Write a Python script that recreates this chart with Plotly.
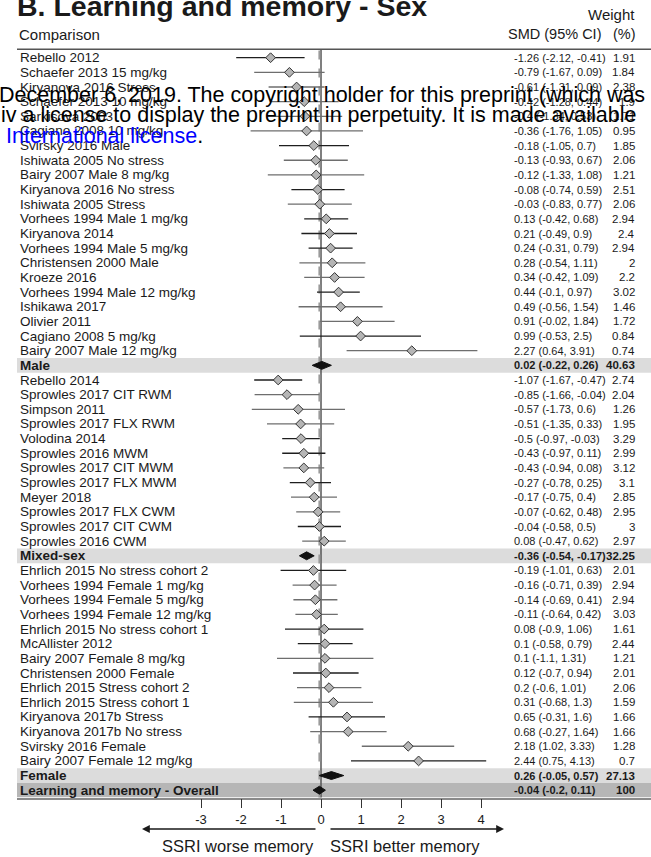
import plotly.graph_objects as go

W, H = 651, 857

# ---------------- data ----------------
labels = [
    "Rebello 2012", "Schaefer 2013 15 mg/kg", "Kiryanova 2016 Stress", "Schaefer 2013 10 mg/kg",
    "Sarkisova 2003", "Cagiano 2008 10 mg/kg", "Svirsky 2016 Male", "Ishiwata 2005 No stress",
    "Bairy 2007 Male 8 mg/kg", "Kiryanova 2016 No stress", "Ishiwata 2005 Stress",
    "Vorhees 1994 Male 1 mg/kg", "Kiryanova 2014", "Vorhees 1994 Male 5 mg/kg",
    "Christensen 2000 Male", "Kroeze 2016", "Vorhees 1994 Male 12 mg/kg", "Ishikawa 2017",
    "Olivier 2011", "Cagiano 2008 5 mg/kg", "Bairy 2007 Male 12 mg/kg",
    "Male",
    "Rebello 2014", "Sprowles 2017 CIT RWM", "Simpson 2011", "Sprowles 2017 FLX RWM",
    "Volodina 2014", "Sprowles 2016 MWM", "Sprowles 2017 CIT MWM", "Sprowles 2017 FLX MWM",
    "Meyer 2018", "Sprowles 2017 FLX CWM", "Sprowles 2017 CIT CWM", "Sprowles 2016 CWM",
    "Mixed-sex",
    "Ehrlich 2015 No stress cohort 2", "Vorhees 1994 Female 1 mg/kg", "Vorhees 1994 Female 5 mg/kg",
    "Vorhees 1994 Female 12 mg/kg", "Ehrlich 2015 No stress cohort 1", "McAllister 2012",
    "Bairy 2007 Female 8 mg/kg", "Christensen 2000 Female", "Ehrlich 2015 Stress cohort 2",
    "Ehrlich 2015 Stress cohort 1", "Kiryanova 2017b Stress", "Kiryanova 2017b No stress",
    "Svirsky 2016 Female", "Bairy 2007 Female 12 mg/kg",
    "Female",
    "Learning and memory - Overall",
]
row_kind = (["study"] * 21 + ["group"] + ["study"] * 12 + ["group"] + ["study"] * 14
            + ["group", "overall"])

smd = [-1.26, -0.79, -0.61, -0.42, -0.4, -0.36, -0.18, -0.13, -0.12, -0.08, -0.03,
       0.13, 0.21, 0.24, 0.28, 0.34, 0.44, 0.49, 0.91, 0.99, 2.27,
       0.02,
       -1.07, -0.85, -0.57, -0.51, -0.5, -0.43, -0.43, -0.27, -0.17, -0.07, -0.04, 0.08,
       -0.36,
       -0.19, -0.16, -0.14, -0.11, 0.08, 0.1, 0.1, 0.12, 0.2, 0.31, 0.65, 0.68, 2.18, 2.44,
       0.26,
       -0.04]
ci_low = [-2.12, -1.67, -1.31, -1.28, -1.34, -1.76, -1.05, -0.93, -1.33, -0.74, -0.83,
          -0.42, -0.49, -0.31, -0.54, -0.42, -0.1, -0.56, -0.02, -0.53, 0.64,
          -0.22,
          -1.67, -1.66, -1.73, -1.35, -0.97, -0.97, -0.94, -0.78, -0.75, -0.62, -0.58, -0.47,
          -0.54,
          -1.01, -0.71, -0.69, -0.64, -0.9, -0.58, -1.1, -0.7, -0.6, -0.68, -0.31, -0.27, 1.02, 0.75,
          -0.05,
          -0.2]
ci_high = [-0.41, 0.09, 0.09, 0.44, 0.53, 1.05, 0.7, 0.67, 1.08, 0.59, 0.77,
           0.68, 0.9, 0.79, 1.11, 1.09, 0.97, 1.54, 1.84, 2.5, 3.91,
           0.26,
           -0.47, -0.04, 0.6, 0.33, -0.03, 0.11, 0.08, 0.25, 0.4, 0.48, 0.5, 0.62,
           -0.17,
           0.63, 0.39, 0.41, 0.42, 1.06, 0.79, 1.31, 0.94, 1.01, 1.3, 1.6, 1.64, 3.33, 4.13,
           0.57,
           0.11]
weight_pct = [1.91, 1.84, 2.38, 1.9, 1.71, 0.95, 1.85, 2.06, 1.21, 2.51, 2.06,
              2.94, 2.4, 2.94, 2, 2.2, 3.02, 1.46, 1.72, 0.84, 0.74,
              40.63,
              2.74, 2.04, 1.26, 1.95, 3.29, 2.99, 3.12, 3.1, 2.85, 2.95, 3, 2.97,
              32.25,
              2.01, 2.94, 2.94, 3.03, 1.61, 2.44, 1.21, 2.01, 2.06, 1.59, 1.66, 1.66, 1.28, 0.7,
              27.13,
              100]
tick_values = [-3, -2, -1, 0, 1, 2, 3, 4]
tick_text = ["-3", "-2", "-1", "0", "1", "2", "3", "4"]

# style only: CI whisker tone per row (d = dark, g = grey)
ci_tone = list("dgggggdggdgdddggdggdg" + "-" + "dgggddgdggdg" + "-" + "dgggddgdggdggd" + "--")

# ---------------- layout geometry (pixels) ----------------
ZERO_PX, UNIT_PX = 321.0, 40.0
LEFT_PX = 17.0
ROW0_PX, PITCH = 57.7, 14.65
TOP_PX, AXIS_PX = 49.3, 797.5

xr = [(LEFT_PX - ZERO_PX) / UNIT_PX, (W - ZERO_PX) / UNIT_PX]
yr = [(AXIS_PX - ROW0_PX) / PITCH, (TOP_PX - ROW0_PX) / PITCH]
ydom = [1 - AXIS_PX / H, 1 - TOP_PX / H]


def px(x):
    return x / W


def py(y):
    return 1 - y / H


FONT = "Liberation Sans, Arial, sans-serif"

fig = go.Figure()
rows = list(range(len(labels)))

# CI whiskers
for tone, col in (("d", "#1e1e1e"), ("g", "#6e6e6e")):
    xs, ys = [], []
    for i in rows:
        if row_kind[i] == "study" and ci_tone[i] == tone:
            xs += [ci_low[i], ci_high[i], None]
            ys += [i, i, None]
    fig.add_trace(go.Scatter(x=xs, y=ys, mode="lines", line=dict(color=col, width=1.3),
                             hoverinfo="skip", showlegend=False))

# study point estimates
si = [i for i in rows if row_kind[i] == "study"]
fig.add_trace(go.Scatter(x=[smd[i] for i in si], y=si, mode="markers",
                         marker=dict(symbol="diamond", size=7.5, color="#b5b5b5",
                                     line=dict(color="#333333", width=1)),
                         showlegend=False, hoverinfo="skip"))

# pooled diamonds
HALF = 0.27
for i in rows:
    if row_kind[i] != "study":
        fig.add_trace(go.Scatter(x=[ci_low[i], smd[i], ci_high[i], smd[i], ci_low[i]],
                                 y=[i, i - HALF, i, i + HALF, i], mode="lines", fill="toself",
                                 fillcolor="#111111", line=dict(color="#111111", width=1),
                                 showlegend=False, hoverinfo="skip"))

shapes = []
# summary bands
for i in rows:
    if row_kind[i] != "study":
        shapes.append(dict(type="rect", xref="paper", yref="y", x0=px(LEFT_PX), x1=1,
                           y0=i - 0.5, y1=i + 0.5, line=dict(width=0),
                           fillcolor="#b6b6b6" if row_kind[i] == "overall" else "#dcdcdc",
                           layer="below"))
# null line and overall estimate line
shapes.append(dict(type="line", xref="x", yref="paper", x0=0, x1=0, y0=ydom[0], y1=ydom[1],
                   line=dict(color="#555555", width=1.5), layer="below"))
overall_idx = row_kind.index("overall")
shapes.append(dict(type="line", xref="x", yref="paper", x0=smd[overall_idx], x1=smd[overall_idx],
                   y0=ydom[0], y1=ydom[1], line=dict(color="#9a9a9a", width=2, dash="dash"),
                   layer="below"))
# header rule
shapes.append(dict(type="line", xref="paper", yref="paper", x0=px(LEFT_PX), x1=1,
                   y0=py(TOP_PX), y1=py(TOP_PX), line=dict(color="#555555", width=1.5)))

ann = []


def fmt(v):
    return "{:g}".format(v)


for i in rows:
    bold = row_kind[i] != "study"
    lab = labels[i]
    val = "%s (%s, %s)" % (fmt(smd[i]), fmt(ci_low[i]), fmt(ci_high[i]))
    wt = fmt(weight_pct[i])
    if bold:
        lab, val, wt = "<b>%s</b>" % lab, "<b>%s</b>" % val, "<b>%s</b>" % wt
    ann.append(dict(x=px(LEFT_PX + 0.5), y=i, xref="paper", yref="y", text=lab,
                    xanchor="left", yanchor="middle", showarrow=False,
                    font=dict(family=FONT, size=13.5, color="#1a1a1a")))
    ann.append(dict(x=px(512), y=i, xref="paper", yref="y", text=val,
                    xanchor="left", yanchor="middle", showarrow=False,
                    font=dict(family=FONT, size=11, color="#1a1a1a")))
    ann.append(dict(x=px(637), y=i, xref="paper", yref="y", text=wt,
                    xanchor="right", yanchor="middle", showarrow=False,
                    font=dict(family=FONT, size=11.5, color="#1a1a1a")))

# headers
ann += [
    dict(x=px(15), y=py(6), xref="paper", yref="paper", text="<b>B. Learning and memory - Sex</b>",
         xanchor="left", yanchor="middle", showarrow=False,
         font=dict(family=FONT, size=28.5, color="#1a1a1a")),
    dict(x=px(637), y=py(15), xref="paper", yref="paper", text="Weight",
         xanchor="right", yanchor="middle", showarrow=False,
         font=dict(family=FONT, size=15, color="#1a1a1a")),
    dict(x=px(LEFT_PX), y=py(34), xref="paper", yref="paper", text="Comparison",
         xanchor="left", yanchor="middle", showarrow=False,
         font=dict(family=FONT, size=15, color="#1a1a1a")),
    dict(x=px(603), y=py(34), xref="paper", yref="paper", text="SMD (95% CI)",
         xanchor="right", yanchor="middle", showarrow=False,
         font=dict(family=FONT, size=14.5, color="#1a1a1a")),
    dict(x=px(638), y=py(34), xref="paper", yref="paper", text="(%)",
         xanchor="right", yanchor="middle", showarrow=False,
         font=dict(family=FONT, size=14.5, color="#1a1a1a")),
]

# direction arrows and captions
ann += [
    dict(x=px(142), y=py(829), xref="paper", yref="paper", text="", showarrow=True,
         ax=175, ay=0, arrowhead=2, arrowsize=1.2, arrowwidth=1.3, arrowcolor="#1a1a1a"),
    dict(x=px(504), y=py(829), xref="paper", yref="paper", text="", showarrow=True,
         ax=-175, ay=0, arrowhead=2, arrowsize=1.2, arrowwidth=1.3, arrowcolor="#1a1a1a"),
    dict(x=px(316), y=py(846), xref="paper", yref="paper", text="SSRI worse memory",
         xanchor="right", yanchor="middle", showarrow=False,
         font=dict(family=FONT, size=16.5, color="#1a1a1a")),
    dict(x=px(328), y=py(846), xref="paper", yref="paper", text="SSRI better memory",
         xanchor="left", yanchor="middle", showarrow=False,
         font=dict(family=FONT, size=16.5, color="#1a1a1a")),
]

# overlaid preprint notice
WM = dict(family="Liberation Sans, Arial, sans-serif", size=21.5, color="#000000")
ann += [
    dict(x=px(-3), y=py(95), xref="paper", yref="paper",
         text="December 6, 2019. The copyright holder for this preprint (which was",
         xanchor="left", yanchor="middle", showarrow=False, font=WM),
    dict(x=px(-1), y=py(115), xref="paper", yref="paper",
         text="iv a license to display the preprint in perpetuity. It is made available",
         xanchor="left", yanchor="middle", showarrow=False, font=WM),
    dict(x=px(4), y=py(136), xref="paper", yref="paper",
         text="<span style='color:#0000ff'>International license</span>.",
         xanchor="left", yanchor="middle", showarrow=False, font=WM),
]

fig.update_layout(
    width=W, height=H, margin=dict(l=0, r=0, t=0, b=0),
    paper_bgcolor="white", plot_bgcolor="rgba(0,0,0,0)",
    shapes=shapes, annotations=ann, showlegend=False,
    xaxis=dict(domain=[px(LEFT_PX), 1], range=xr, showgrid=False, zeroline=False,
               showline=True, linecolor="#8a8a8a", linewidth=1.5,
               tickmode="array", tickvals=tick_values, ticktext=tick_text,
               ticks="outside", ticklen=9, tickwidth=1.3, tickcolor="#333333",
               tickfont=dict(family=FONT, size=13, color="#1a1a1a"), fixedrange=True),
    yaxis=dict(domain=ydom, range=yr, showgrid=False, zeroline=False, showline=False,
               showticklabels=False, ticks="", fixedrange=True),
)

fig.write_html("out.html")
